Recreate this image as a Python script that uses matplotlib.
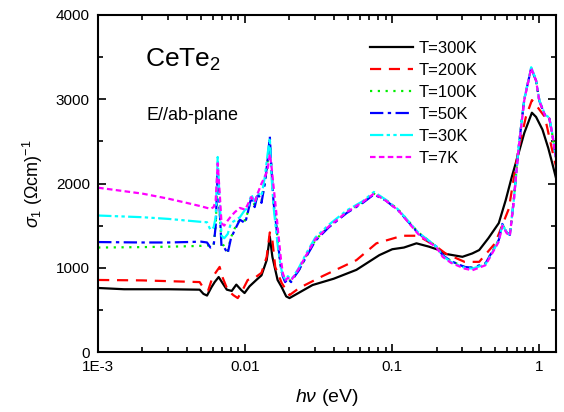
import numpy as np
import matplotlib
matplotlib.use("Agg")
import matplotlib.pyplot as plt
from matplotlib.ticker import FixedLocator, NullFormatter, MultipleLocator

plt.rcParams["font.family"] = ["Liberation Sans", "DejaVu Sans"]
plt.rcParams["mathtext.fontset"] = "custom"
plt.rcParams["mathtext.rm"] = "Liberation Sans"
plt.rcParams["mathtext.it"] = "Liberation Sans:italic"

# ---------------------------
# Data (photon energy in eV, sigma_1 in (Ohm cm)^-1)
# ---------------------------
e_300 = [0.001, 0.0015, 0.003, 0.0049, 0.0052, 0.0055, 0.0059, 0.0062, 0.0066, 0.007,
         0.0075, 0.0081, 0.0087, 0.0094, 0.0099, 0.0107, 0.0119, 0.0129, 0.014, 0.0147,
         0.0153, 0.0166, 0.0177, 0.019, 0.02, 0.0287, 0.04, 0.057, 0.0817, 0.1,
         0.12, 0.146, 0.178, 0.208, 0.23, 0.30, 0.35, 0.39, 0.45, 0.53,
         0.59, 0.65, 0.72, 0.79, 0.89, 0.95, 1.05, 1.15, 1.22, 1.3]
s_300 = [760, 745, 745, 740, 690, 670, 770, 830, 890, 820,
         740, 725, 800, 735, 700, 780, 855, 910, 1090, 1370,
         1130, 855, 770, 660, 640, 795, 870, 975, 1150, 1220,
         1240, 1290, 1250, 1210, 1165, 1130, 1170, 1210, 1350, 1530,
         1800, 2080, 2350, 2600, 2840, 2790, 2640, 2420, 2250, 2060]

e_200 = [0.001, 0.002, 0.0049, 0.0052, 0.0056, 0.006, 0.0067, 0.007, 0.0076, 0.0083,
         0.0089, 0.0096, 0.0104, 0.0116, 0.0129, 0.014, 0.0147, 0.0153, 0.016, 0.0177,
         0.019, 0.02, 0.0233, 0.0335, 0.057, 0.078, 0.117, 0.15, 0.2, 0.23,
         0.31, 0.39, 0.5, 0.62, 0.72, 0.81, 0.89, 0.95, 1.09, 1.25,
         1.3]
s_200 = [855, 850, 830, 760, 730, 890, 1010, 890, 735, 675,
         640, 735, 855, 880, 940, 1130, 1420, 1330, 1010, 820,
         735, 675, 760, 900, 1090, 1290, 1380, 1380, 1250, 1170,
         1070, 1070, 1290, 1700, 2400, 2790, 2990, 2930, 2790, 2320,
         2200]

# low temperature curves share one energy grid
e_cold = [0.001, 0.002, 0.003, 0.004, 0.005, 0.0055, 0.0058, 0.0061, 0.0063, 0.0065,
          0.0067, 0.0069, 0.0072, 0.0076, 0.0080, 0.0085, 0.0092, 0.0100, 0.0104, 0.0110,
          0.0116, 0.0122, 0.0129, 0.0136, 0.0142, 0.0147, 0.0151, 0.0156, 0.0162, 0.0168,
          0.0175, 0.0180, 0.0187, 0.0195, 0.0205, 0.0215, 0.023, 0.026, 0.030, 0.037,
          0.049, 0.063, 0.075, 0.09, 0.11, 0.15, 0.2, 0.22, 0.25, 0.31,
          0.35, 0.43, 0.53, 0.56, 0.60, 0.63, 0.67, 0.72, 0.79, 0.88,
          0.95, 1.0, 1.09, 1.17, 1.22, 1.3]
s_100 = [1240, 1245, 1250, 1255, 1260, 1270, 1250, 1270, 1500, 2100,
         1680, 1280, 1260, 1200, 1360, 1470, 1580, 1560, 1660, 1830,
         1740, 1880, 1790, 2010, 2260, 2520, 2150, 1780, 1540, 1250,
         1000, 900, 840, 870, 840, 890, 960, 1140, 1330, 1490,
         1660, 1780, 1880, 1810, 1690, 1420, 1250, 1150, 1080, 1010,
         1000, 1050, 1330, 1520, 1420, 1390, 1800, 2400, 3000, 3370,
         3220, 2980, 2810, 2770, 2600, 2300]
s_50 = [1305, 1300, 1300, 1305, 1310, 1300, 1240, 1260, 1500, 2150,
        1700, 1250, 1240, 1170, 1350, 1450, 1570, 1530, 1650, 1840,
        1720, 1890, 1770, 2000, 2280, 2560, 2160, 1770, 1530, 1250,
        1000, 900, 830, 870, 830, 890, 960, 1130, 1320, 1480,
        1650, 1770, 1870, 1800, 1680, 1410, 1250, 1150, 1080, 1010,
        1000, 1050, 1330, 1520, 1420, 1390, 1800, 2400, 3000, 3370,
        3220, 2980, 2810, 2770, 2600, 2300]
s_30 = [1620, 1600, 1580, 1560, 1545, 1540, 1450, 1480, 1600, 2315,
        1800, 1380, 1350, 1400, 1530, 1560, 1600, 1690, 1700, 1870,
        1780, 1890, 1850, 2080, 2350, 2540, 2080, 1720, 1450, 1200,
        1000, 920, 860, 900, 860, 910, 990, 1170, 1360, 1510,
        1680, 1790, 1900, 1810, 1690, 1420, 1250, 1140, 1070, 1000,
        990, 1040, 1320, 1510, 1420, 1390, 1800, 2400, 3000, 3380,
        3230, 2990, 2820, 2780, 2610, 2320]
s_7 = [1950, 1880, 1820, 1770, 1730, 1710, 1700, 1720, 1800, 2240,
       1900, 1530, 1500, 1560, 1610, 1660, 1710, 1690, 1750, 1840,
       1780, 1890, 2000, 2080, 2160, 2350, 2200, 1960, 1690, 1400,
       1100, 940, 850, 880, 850, 900, 980, 1150, 1340, 1490,
       1660, 1780, 1880, 1800, 1680, 1400, 1240, 1130, 1060, 990,
       970, 1030, 1310, 1500, 1410, 1380, 1790, 2390, 2990, 3370,
       3220, 2980, 2810, 2770, 2600, 2300]

x_ticks = [0.001, 0.01, 0.1, 1]
x_tick_labels = ["1E-3", "0.01", "0.1", "1"]
y_ticks = [0, 1000, 2000, 3000, 4000]

# ---------------------------
# Plot
# ---------------------------
fig = plt.figure(figsize=(5.64, 4.12), dpi=100)
ax = fig.add_axes([0.174, 0.1456, 0.812, 0.818])

ax.plot(e_300, s_300, color="black", lw=1.6, ls="-", label="T=300K")
ax.plot(e_200, s_200, color="red", lw=1.6, ls=(0, (5, 3.5)), label="T=200K")
ax.plot(e_cold, s_100, color="#00ee00", lw=1.6, ls=(0, (1, 2.5)), label="T=100K")
ax.plot(e_cold, s_50, color="blue", lw=1.6, ls=(0, (6, 2, 1.5, 2)), label="T=50K")
ax.plot(e_cold, s_30, color="cyan", lw=1.6, ls=(0, (6, 1.5, 1.5, 1.5, 1.5, 1.5)), label="T=30K")
ax.plot(e_cold, s_7, color="magenta", lw=1.6, ls=(0, (2.5, 1.5)), label="T=7K")

ax.set_xscale("log")
ax.set_xlim(1e-3, 1.3)
ax.set_ylim(0, 4000)
ax.xaxis.set_major_locator(FixedLocator(x_ticks))
ax.set_xticklabels(x_tick_labels)
ax.xaxis.set_minor_formatter(NullFormatter())
ax.yaxis.set_major_locator(FixedLocator(y_ticks))
ax.yaxis.set_minor_locator(MultipleLocator(500))

ax.tick_params(which="both", direction="in", top=True, right=True, labelsize=11, width=1.2)
ax.tick_params(which="major", length=6, pad=6)
ax.tick_params(which="minor", length=3.5)
for sp in ax.spines.values():
    sp.set_linewidth(1.5)

ax.set_xlabel(r"$h\nu$ (eV)", fontsize=14, labelpad=9)
ax.set_ylabel(r"$\sigma_1$ ($\Omega$cm)$^{-1}$", fontsize=13, labelpad=8)

fig.text(145 / 564, 1 - 67 / 412, r"CeTe$_2$", fontsize=19, va="baseline")
fig.text(147 / 564, 1 - 120 / 412, "E//ab-plane", fontsize=13, va="baseline")

ax.legend(loc="upper left", bbox_to_anchor=(370 / 564, 1 - 41 / 412), bbox_transform=fig.transFigure,
          frameon=False, fontsize=12, handlelength=2.6, handletextpad=0.3, labelspacing=0.42,
          borderpad=0, borderaxespad=0)

fig.savefig("out.png", dpi=100)
